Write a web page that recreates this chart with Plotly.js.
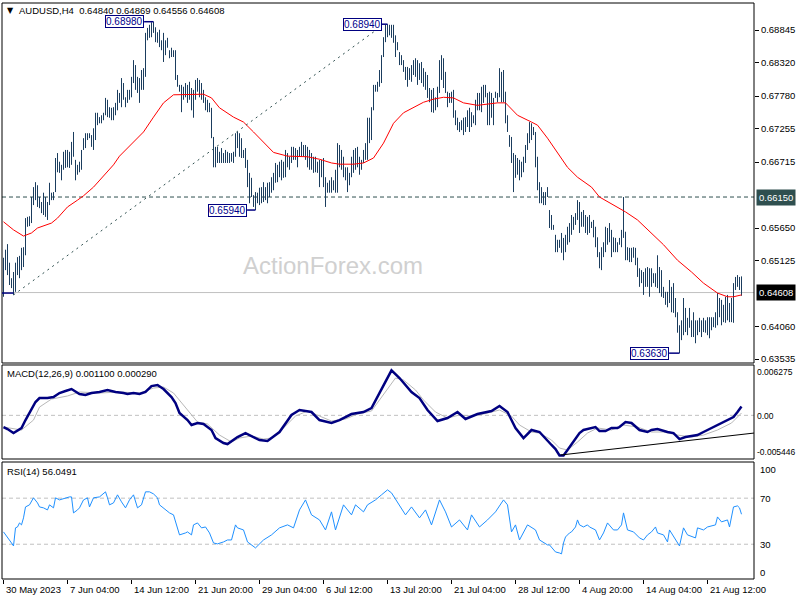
<!DOCTYPE html>
<html><head><meta charset="utf-8">
<script src="https://cdn.plot.ly/plotly-3.0.1.min.js"></script>
<style>html,body{margin:0;padding:0;background:#fff}#chart{width:800px;height:600px}</style>
</head><body><div id="chart"></div>
<script>
// ---- Data ----
const symbolTitle = "AUDUSD,H4\u00a0\u00a00.64840 0.64869 0.64556 0.64608";
const tickBars = [0, 32, 64, 96, 128, 160, 192, 224, 256, 288, 320, 352];
const tickLabels = ["30 May 2023", "7 Jun 04:00", "14 Jun 12:00", "21 Jun 20:00", "29 Jun 04:00", "6 Jul 12:00",
  "13 Jul 20:00", "21 Jul 04:00", "28 Jul 12:00", "4 Aug 20:00", "14 Aug 04:00", "21 Aug 12:00"];
const priceTicks = [0.68845, 0.68320, 0.67780, 0.67255, 0.66715, 0.65650, 0.65125, 0.64060, 0.63535];
const priceTickText = ["0.68845", "0.68320", "0.67780", "0.67255", "0.66715", "0.65650", "0.65125", "0.64060", "0.63535"];
const levelPrice = 0.66150;
const lastPrice = 0.64608;

const highs = [
.6517,.6530,.6539,.6509,.6484,.6494,.6509,.6518,.6520,.6533,
.6534,.6581,.6583,.6584,.6615,.6631,.6639,.6634,.6615,.6607,
.6622,.6615,.6607,.6638,.6622,.6623,.6678,.6686,.6672,.6667,
.6688,.6691,.6691,.6688,.6704,.6720,.6675,.6667,.6672,.6691,
.6710,.6718,.6718,.6718,.6715,.6726,.6751,.6751,.6744,.6747,
.6751,.6775,.6772,.6760,.6759,.6760,.6767,.6788,.6783,.6807,
.6799,.6776,.6788,.6788,.6809,.6836,.6828,.6809,.6807,.6820,
.6823,.6880,.6888,.6893,.6897,.6898,.6889,.6881,.6885,.6868,
.6880,.6868,.6872,.6852,.6856,.6852,.6852,.6812,.6796,.6796,
.6793,.6799,.6796,.6801,.6791,.6788,.6804,.6807,.6804,.6799,
.6788,.6776,.6772,.6767,.6759,.6712,.6696,.6696,.6688,.6694,
.6686,.6691,.6688,.6686,.6686,.6688,.6718,.6720,.6718,.6710,
.6691,.6694,.6675,.6654,.6646,.6618,.6623,.6622,.6630,.6631,
.6639,.6631,.6638,.6639,.6647,.6654,.6670,.6667,.6672,.6675,
.6672,.6691,.6686,.6680,.6696,.6696,.6694,.6691,.6696,.6704,
.6699,.6699,.6696,.6691,.6686,.6680,.6680,.6672,.6675,.6675,
.6678,.6647,.6638,.6642,.6647,.6642,.6659,.6702,.6699,.6691,
.6680,.6663,.6663,.6654,.6680,.6691,.6694,.6696,.6680,.6675,
.6691,.6702,.6743,.6743,.6760,.6796,.6796,.6801,.6820,.6844,
.6873,.6893,.6894,.6893,.6893,.6893,.6876,.6865,.6849,.6844,
.6836,.6825,.6825,.6823,.6828,.6836,.6839,.6836,.6831,.6833,
.6823,.6817,.6812,.6791,.6788,.6791,.6776,.6793,.6836,.6844,
.6839,.6817,.6785,.6783,.6785,.6788,.6755,.6743,.6736,.6739,
.6743,.6744,.6755,.6759,.6752,.6747,.6772,.6783,.6783,.6793,
.6796,.6796,.6783,.6785,.6783,.6775,.6785,.6783,.6823,.6817,
.6820,.6785,.6747,.6715,.6712,.6686,.6683,.6678,.6675,.6672,
.6680,.6699,.6718,.6736,.6734,.6728,.6720,.6680,.6639,.6631,
.6623,.6623,.6631,.6594,.6586,.6570,.6554,.6546,.6546,.6557,
.6549,.6554,.6567,.6573,.6586,.6583,.6589,.6610,.6607,.6591,
.6594,.6586,.6583,.6586,.6575,.6578,.6567,.6550,.6526,.6534,
.6542,.6567,.6565,.6573,.6562,.6550,.6549,.6542,.6549,.6562,
.6615,.6559,.6534,.6533,.6533,.6534,.6533,.6517,.6500,.6497,
.6494,.6500,.6502,.6500,.6500,.6492,.6492,.6521,.6502,.6497,
.6470,.6462,.6462,.6481,.6470,.6476,.6452,.6429,.6408,.6416,
.6452,.6436,.6420,.6436,.6416,.6429,.6416,.6416,.6420,.6416,
.6420,.6416,.6421,.6421,.6421,.6421,.6429,.6460,.6452,.6449,
.6441,.6454,.6457,.6444,.6452,.6476,.6486,.6489,.6486,.64869];

const lows = [
.6454,.6497,.6489,.6473,.6468,.6457,.6462,.6489,.6484,.6497,
.6502,.6521,.6567,.6568,.6573,.6602,.6610,.6599,.6597,.6589,
.6586,.6583,.6578,.6602,.6610,.6610,.6623,.6655,.6654,.6642,
.6659,.6662,.6663,.6662,.6667,.6680,.6642,.6651,.6655,.6659,
.6691,.6694,.6707,.6710,.6696,.6691,.6707,.6731,.6734,.6734,
.6739,.6747,.6744,.6743,.6739,.6739,.6747,.6755,.6767,.6760,
.6772,.6760,.6767,.6772,.6776,.6799,.6788,.6783,.6767,.6788,
.6788,.6809,.6868,.6872,.6873,.6880,.6865,.6864,.6857,.6852,
.6833,.6844,.6856,.6839,.6841,.6841,.6804,.6793,.6785,.6752,
.6772,.6776,.6767,.6772,.6755,.6743,.6772,.6785,.6776,.6772,
.6767,.6755,.6752,.6752,.6710,.6663,.6663,.6670,.6670,.6670,
.6670,.6670,.6670,.6670,.6672,.6670,.6680,.6694,.6680,.6678,
.6678,.6662,.6631,.6605,.6615,.6599,.6594,.6605,.6602,.6605,
.6607,.6610,.6605,.6615,.6622,.6626,.6638,.6639,.6647,.6642,
.6646,.6647,.6663,.6659,.6670,.6675,.6675,.6663,.6680,.6680,
.6680,.6675,.6663,.6659,.6659,.6654,.6655,.6654,.6631,.6647,
.6631,.6599,.6622,.6622,.6622,.6626,.6622,.6622,.6663,.6659,
.6647,.6642,.6623,.6634,.6647,.6654,.6659,.6663,.6651,.6659,
.6670,.6675,.6675,.6702,.6707,.6755,.6785,.6785,.6793,.6799,
.6841,.6865,.6873,.6876,.6872,.6864,.6841,.6852,.6828,.6828,
.6817,.6804,.6793,.6804,.6801,.6812,.6809,.6796,.6804,.6799,
.6793,.6788,.6775,.6768,.6752,.6751,.6755,.6760,.6783,.6804,
.6791,.6783,.6760,.6767,.6767,.6743,.6731,.6723,.6720,.6723,
.6715,.6720,.6728,.6720,.6728,.6734,.6731,.6755,.6755,.6752,
.6767,.6776,.6731,.6731,.6743,.6731,.6775,.6768,.6776,.6768,
.6768,.6734,.6720,.6696,.6670,.6623,.6646,.6651,.6642,.6647,
.6655,.6670,.6691,.6702,.6707,.6715,.6663,.6626,.6605,.6605,
.6602,.6602,.6615,.6565,.6562,.6562,.6526,.6526,.6533,.6525,
.6513,.6526,.6538,.6542,.6554,.6562,.6570,.6578,.6557,.6567,
.6567,.6557,.6554,.6557,.6565,.6550,.6534,.6518,.6500,.6497,
.6518,.6526,.6538,.6542,.6518,.6526,.6526,.6526,.6538,.6534,
.6549,.6513,.6513,.6510,.6510,.6517,.6505,.6486,.6470,.6476,
.6457,.6470,.6470,.6454,.6470,.6476,.6470,.6468,.6460,.6454,
.6452,.6441,.6437,.6444,.6429,.6428,.6421,.6396,.6363,.6384,
.6392,.6397,.6392,.6404,.6389,.6389,.6379,.6392,.6397,.6389,
.6397,.6396,.6392,.6387,.6400,.6405,.6404,.6408,.6421,.6408,
.6413,.6412,.6416,.6413,.6413,.6412,.6465,.6470,.6465,.64556];

const maBars = [0,5,10,14,17,24,27,32,37,40,45,50,55,58,65,70,75,80,85,92,100,104,108,115,120,125,130,135,142,148,152,158,164,168,175,180,185,190,195,200,205,210,215,220,225,230,237,247,251,257,264,267,272,277,282,287,294,298,305,311,317,324,330,337,344,350,357,362,365,369];
const maValues = [.6575,.6562,.6552,.6557,.6565,.6573,.6581,.6599,.6610,.6617,.6631,.6649,.6667,.6681,.6704,.6720,.6744,.6767,.6780,.6781,.6781,.6775,.6759,.6744,.6736,.6720,.6704,.6687,.6681,.6680,.6680,.6676,.6670,.6668,.6668,.6670,.6678,.6702,.6734,.6751,.6760,.6768,.6773,.6776,.6775,.6767,.6763,.6767,.6767,.6747,.6736,.6731,.6710,.6686,.6663,.6647,.6631,.6615,.6602,.6591,.6578,.6557,.6538,.6513,.6494,.6476,.6460,.6454,.6454,.6457];

const trendBars = [5, 188.25];
const trendPrices = [0.6457, 0.6889];

const macdBars = [0,2,5,9,11,14,16,18,22,25,28,31,34,38,41,44,48,52,56,60,62,65,68,71,74,77,80,84,86,88,92,94,97,100,104,106,110,112,114,117,121,124,128,132,138,144,148,154,158,164,168,174,180,184,190,194,198,204,208,212,217,222,227,231,237,244,248,252,256,260,264,268,274,276,278,280,282,285,288,290,294,296,298,301,304,307,308,311,314,316,318,322,324,327,330,332,335,338,341,344,347,350,354,357,360,364,365,367,369];
const macdValues = [-0.00146,-0.00171,-0.00220,-0.00158,-0.00059,0.00066,0.00166,0.00216,0.00216,0.00228,0.00278,0.00303,0.00328,0.00266,0.00253,0.00278,0.00291,0.00316,0.00291,0.00278,0.00266,0.00278,0.00266,0.00291,0.00365,0.00378,0.00328,0.00228,0.00153,0.00029,-0.00059,-0.00121,-0.00096,-0.00108,-0.00183,-0.00283,-0.00345,-0.00358,-0.00320,-0.00271,-0.00221,-0.00258,-0.00308,-0.00320,-0.00208,0.00004,0.00066,0.00041,-0.00059,-0.00096,-0.00059,0.00016,0.00041,0.00091,0.00378,0.00560,0.00465,0.00291,0.00216,0.00066,-0.00071,-0.00034,0.00041,-0.00046,0.00016,0.00054,0.00116,0.00041,-0.00158,-0.00283,-0.00183,-0.00208,-0.00370,-0.00420,-0.00500,-0.00500,-0.00433,-0.00333,-0.00221,-0.00183,-0.00158,-0.00146,-0.00196,-0.00196,-0.00158,-0.00158,-0.00146,-0.00084,-0.00096,-0.00146,-0.00183,-0.00208,-0.00183,-0.00171,-0.00196,-0.00208,-0.00221,-0.00296,-0.00271,-0.00258,-0.00246,-0.00208,-0.00158,-0.00121,-0.00084,-0.00034,-0.00021,0.00041,0.00110];

const signalBars = [0,9,15,18,24,32,38,48,58,68,75,80,85,92,97,102,108,114,118,124,130,134,140,146,152,158,164,171,177,184,190,196,200,206,210,216,222,228,234,240,248,254,258,264,268,274,278,282,287,292,297,304,310,317,324,330,337,344,350,357,364,369];
const signalValues = [-0.00146,-0.00183,-0.00059,0.00103,0.00203,0.00241,0.00291,0.00278,0.00291,0.00278,0.00340,0.00353,0.00278,0.00066,-0.00084,-0.00108,-0.00246,-0.00333,-0.00283,-0.00258,-0.00296,-0.00283,-0.00158,-0.00009,0.00054,-0.00009,-0.00071,-0.00046,0.00016,0.00054,0.00253,0.00465,0.00440,0.00316,0.00191,0.00041,-0.00034,0.00004,-0.00009,0.00016,0.00066,-0.00009,-0.00121,-0.00208,-0.00221,-0.00308,-0.00408,-0.00433,-0.00333,-0.00221,-0.00158,-0.00183,-0.00121,-0.00146,-0.00208,-0.00208,-0.00246,-0.00271,-0.00246,-0.00183,-0.00096,0.00029];

const macdTrendBars = [278.5, 375.25];
const macdTrendValues = [-0.00495, -0.00221];

const rsiBars = [0,2,4,5,6,7,8,9,10,11,13,15,17,18,20,22,23,25,26,28,31,33,34,35,37,38,40,42,43,45,48,51,52,53,55,57,59,61,63,65,67,69,71,73,75,77,78,81,83,85,87,88,91,92,94,95,97,99,101,103,105,107,110,112,114,116,117,120,122,126,130,134,138,142,145,148,151,154,158,161,164,166,170,174,176,180,182,186,189,192,194,198,201,204,208,211,214,218,221,224,228,232,234,238,242,246,250,252,254,256,258,262,266,268,272,273,276,278,279,280,281,283,284,286,287,288,290,292,293,296,298,300,302,305,307,309,310,312,315,318,320,322,324,326,327,330,332,333,336,338,340,342,346,347,350,352,356,357,359,362,363,365,367,368,369];
const rsiValues = [40.7,36.3,31.1,28.5,44.2,45.0,48.5,46.8,52.9,62.4,64.2,70.3,65.9,62.4,61.6,59.8,64.2,61.6,70.3,68.5,70.3,71.1,71.1,57.2,59.8,61.6,68.5,70.3,62.4,70.3,71.1,75.5,70.3,64.2,65.9,72.9,66.8,61.6,68.5,72.9,61.6,64.2,75.5,75.5,73.7,70.3,64.2,59.8,57.2,55.5,42.4,38.1,39.8,40.7,38.1,46.8,48.5,44.2,45.0,39.8,31.1,30.3,32.0,33.7,33.7,46.8,44.2,42.4,32.0,26.8,33.7,38.1,44.2,46.8,44.2,59.8,68.5,55.5,51.1,42.4,58.1,42.4,64.2,55.5,64.2,58.1,64.2,68.5,72.9,77.2,74.6,64.2,55.5,62.4,52.9,59.8,46.8,68.5,58.1,45.0,51.1,42.4,55.5,45.0,51.1,58.1,68.5,64.2,40.7,46.8,33.7,46.8,42.4,33.7,29.4,29.4,23.3,22.4,21.6,31.1,36.3,39.8,40.7,45.0,51.1,46.8,45.0,46.8,45.0,42.4,33.7,39.8,48.5,42.4,42.4,46.8,57.2,42.4,40.7,35.5,33.7,38.1,40.7,45.0,39.8,38.1,32.0,42.4,33.7,28.5,44.2,38.1,35.5,44.2,42.4,45.0,46.8,53.7,49.4,51.1,45.0,62.4,63.3,61.6,56.0491];

const macdLabel = "MACD(12,26,9) 0.001100 0.000290";
const rsiLabel = "RSI(14) 56.0491";
const macdAxisLabels = ["0.006275", "0.00", "-0.005446"];
const rsiAxisLabels = ["100", "70", "30", "0"];
const rsiLevels = [70, 30];
const extremes = [
  {bar: 75, price: 0.68980, text: "0.68980", labelBar: 70.3},
  {bar: 192, price: 0.68940, text: "0.68940", labelBar: 189.2},
  {bar: 126, price: 0.65940, text: "0.65940", labelBar: 121.8},
  {bar: 338, price: 0.63630, text: "0.63630", labelBar: 332.8}
];

// ---- Build ----
const F = "Liberation Sans, Arial, sans-serif";
const FS = 9.5;
const W = 752, H = 576, L = 2, T = 3;
const px = v => (v - L) / W;          // pixel x -> paper
const py = v => (T + H - v) / H;      // pixel y -> paper

const bx = [], by = [];
for (let i = 0; i < highs.length; i++) { bx.push(i, i, null); by.push(lows[i], highs[i], null); }

const traces = [
  {x: bx, y: by, type: 'scatter', mode: 'lines', line: {color: '#1b3d5e', width: 1}, xaxis: 'x', yaxis: 'y', hoverinfo: 'skip'},
  {x: maBars, y: maValues, type: 'scatter', mode: 'lines', line: {color: '#ff0000', width: 1}, xaxis: 'x', yaxis: 'y', hoverinfo: 'skip'},
  {x: trendBars, y: trendPrices, type: 'scatter', mode: 'lines', line: {color: '#2f4f4f', width: 1, dash: '2px,4px'}, xaxis: 'x', yaxis: 'y', hoverinfo: 'skip'},
  {x: signalBars, y: signalValues, type: 'scatter', mode: 'lines', line: {color: '#b8b8b8', width: 1}, xaxis: 'x', yaxis: 'y2', hoverinfo: 'skip'},
  {x: macdBars, y: macdValues, type: 'scatter', mode: 'lines', line: {color: '#000080', width: 2.5}, xaxis: 'x', yaxis: 'y2', hoverinfo: 'skip'},
  {x: macdTrendBars, y: macdTrendValues, type: 'scatter', mode: 'lines', line: {color: '#000000', width: 1}, xaxis: 'x', yaxis: 'y2', hoverinfo: 'skip'},
  {x: rsiBars, y: rsiValues, type: 'scatter', mode: 'lines', line: {color: '#1e90ff', width: 1}, xaxis: 'x', yaxis: 'y3', hoverinfo: 'skip'}
];

const mainDom = [0.375, 1], macdDom = [0.20833, 0.37153], rsiDom = [0, 0.2031];

const shapes = [
  {type: 'line', xref: 'paper', yref: 'y', x0: 0, x1: 1, y0: levelPrice, y1: levelPrice, line: {color: '#2f4f4f', width: 1, dash: '4px,3px'}, layer: 'below'},
  {type: 'line', xref: 'paper', yref: 'y', x0: 0, x1: 1, y0: lastPrice, y1: lastPrice, line: {color: '#c0c0c0', width: 1}, layer: 'below'},
  {type: 'line', xref: 'paper', yref: 'y2', x0: 0, x1: 1, y0: 0, y1: 0, line: {color: '#c0c0c0', width: 1, dash: '4px,3px'}, layer: 'below'},
  {type: 'rect', xref: 'paper', yref: 'paper', x0: 0, x1: 1, y0: mainDom[0], y1: mainDom[1], line: {color: '#000', width: 1}},
  {type: 'rect', xref: 'paper', yref: 'paper', x0: 0, x1: 1, y0: macdDom[0], y1: macdDom[1], line: {color: '#000', width: 1}},
  {type: 'rect', xref: 'paper', yref: 'paper', x0: 0, x1: 1, y0: rsiDom[0], y1: rsiDom[1], line: {color: '#000', width: 1}},
  {type: 'line', xref: 'x', yref: 'y', x0: -1, x1: 5, y0: 0.6460, y1: 0.6460, line: {color: '#000080', width: 1.5}}
];
rsiLevels.forEach(v => shapes.push({type: 'line', xref: 'paper', yref: 'y3', x0: 0, x1: 1, y0: v, y1: v, line: {color: '#c0c0c0', width: 1, dash: '4px,3px'}, layer: 'below'}));
extremes.forEach(e => shapes.push({type: 'line', xref: 'x', yref: 'y', x0: e.labelBar, x1: e.bar, y0: e.price, y1: e.price, line: {color: '#000080', width: 1.5}}));

const annotations = [
  {xref: 'paper', yref: 'paper', x: px(5), y: py(10), xanchor: 'left', yanchor: 'middle', text: '\u25bc', showarrow: false, font: {family: 'DejaVu Sans', size: 8, color: '#000'}},
  {xref: 'paper', yref: 'paper', x: px(17), y: py(10), xanchor: 'left', yanchor: 'middle', text: symbolTitle, showarrow: false, font: {family: F, size: FS, color: '#000'}},
  {xref: 'paper', yref: 'paper', x: px(5), y: py(373), xanchor: 'left', yanchor: 'middle', text: macdLabel, showarrow: false, font: {family: F, size: FS, color: '#000'}},
  {xref: 'paper', yref: 'paper', x: px(5), y: py(471), xanchor: 'left', yanchor: 'middle', text: rsiLabel, showarrow: false, font: {family: F, size: FS, color: '#000'}},
  {xref: 'paper', yref: 'paper', x: px(333), y: py(265), xanchor: 'center', yanchor: 'middle', text: 'ActionForex.com', showarrow: false, font: {family: 'Liberation Sans, Arial, sans-serif', size: 24, color: '#d0d0d0'}},
  {xref: 'paper', yref: 'y', x: px(756), y: levelPrice, xanchor: 'left', yanchor: 'middle', text: '0.66150', showarrow: false, bgcolor: '#2f4f4f', borderpad: 2, font: {family: F, size: FS, color: '#fff'}},
  {xref: 'paper', yref: 'y', x: px(756), y: lastPrice, xanchor: 'left', yanchor: 'middle', text: '0.64608', showarrow: false, bgcolor: '#000', borderpad: 2, font: {family: F, size: FS, color: '#fff'}}
];
const macdLabelY = [372, 416, 452];
macdAxisLabels.forEach((t, k) => annotations.push({xref: 'paper', yref: 'paper', x: px(755), y: py(macdLabelY[k]), xanchor: 'left', yanchor: 'middle', text: t, showarrow: false, font: {family: F, size: 8.5, color: '#000'}}));
const rsiLabelY = [469, 498, 544, 572];
rsiAxisLabels.forEach((t, k) => annotations.push({xref: 'paper', yref: 'paper', x: px(758), y: py(rsiLabelY[k]), xanchor: 'left', yanchor: 'middle', text: t, showarrow: false, font: {family: F, size: FS, color: '#000'}}));
extremes.forEach(e => annotations.push({xref: 'x', yref: 'y', x: e.labelBar, y: e.price, xanchor: 'right', yanchor: 'middle', text: e.text, showarrow: false, bgcolor: '#fff', bordercolor: '#000080', borderwidth: 1, borderpad: 0, font: {family: F, size: 10, color: '#00008b'}}));
tickBars.forEach((b, k) => annotations.push({xref: 'x', yref: 'paper', x: b, y: py(589), xanchor: 'left', yanchor: 'middle', xshift: 0, text: tickLabels[k], showarrow: false, font: {family: F, size: FS, color: '#000'}}));

const layout = {
  width: 800, height: 600,
  margin: {l: L, r: 800 - L - W, t: T, b: 600 - T - H, pad: 0},
  paper_bgcolor: '#fff', plot_bgcolor: '#fff',
  showlegend: false,
  xaxis: {range: [-0.75, 375.25], anchor: 'y3', showgrid: false, zeroline: false, showline: false,
    tickmode: 'array', tickvals: tickBars, ticks: 'outside', ticklen: 4, tickcolor: '#000', showticklabels: false},
  yaxis: {domain: mainDom, range: [0.63471, 0.69282], side: 'right', anchor: 'x', showgrid: false, zeroline: false, showline: false,
    tickmode: 'array', tickvals: priceTicks, ticktext: priceTickText, ticks: 'outside', ticklen: 4, tickcolor: '#000',
    tickfont: {family: F, size: FS, color: '#000'}},
  yaxis2: {domain: macdDom, range: [-0.005446, 0.006275], anchor: 'x', side: 'right', showgrid: false, zeroline: false, showticklabels: false, ticks: ''},
  yaxis3: {domain: rsiDom, range: [-0.2, 101.4], anchor: 'x', side: 'right', showgrid: false, zeroline: false, showticklabels: false, ticks: ''},
  shapes: shapes,
  annotations: annotations
};

Plotly.newPlot('chart', traces, layout, {staticPlot: true, displayModeBar: false});
</script>
</body></html>
